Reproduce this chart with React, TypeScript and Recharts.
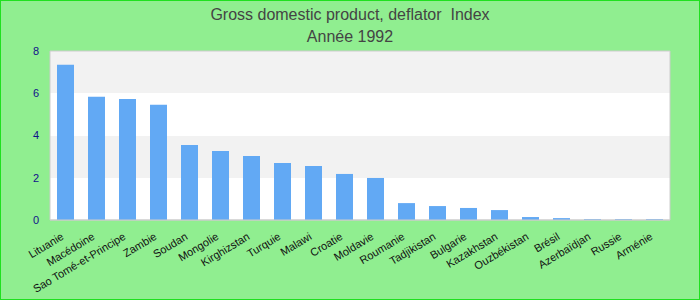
import { BarChart, Bar, XAxis, YAxis, CartesianGrid, ReferenceArea } from "recharts";

const countries = [
  "Lituanie",
  "Macédoine",
  "Sao Tomé-et-Principe",
  "Zambie",
  "Soudan",
  "Mongolie",
  "Kirghizstan",
  "Turquie",
  "Malawi",
  "Croatie",
  "Moldavie",
  "Roumanie",
  "Tadjikistan",
  "Bulgarie",
  "Kazakhstan",
  "Ouzbékistan",
  "Brésil",
  "Azerbaïdjan",
  "Russie",
  "Arménie",
];

const deflator = [
  7.35, 5.83, 5.73, 5.45, 3.55, 3.27, 3.03, 2.7, 2.56, 2.18, 1.99, 0.8, 0.66,
  0.57, 0.47, 0.14, 0.09, 0.04, 0.04, 0.04,
];

const yTicks = [0, 2, 4, 6, 8];

const data = countries.map((name, i) => ({ name, value: deflator[i] }));

const FONT = "'Liberation Sans', Arial, sans-serif";

export default function App() {
  return (
    <div
      style={{
        position: "absolute",
        left: 0,
        top: 0,
        width: 700,
        height: 300,
        boxSizing: "border-box",
        border: "1px solid #1fe01f",
        background: "#90ee90",
      }}
    >
      <div
        style={{
          position: "absolute",
          left: 0,
          top: 3,
          width: 698,
          textAlign: "center",
          fontFamily: "'Liberation Sans Narrow', 'Liberation Sans', sans-serif",
          fontSize: 16,
          color: "#444",
          whiteSpace: "pre",
          lineHeight: "22px",
        }}
      >
        <div>Gross domestic product, deflator  Index</div>
        <div>Année 1992</div>
      </div>
      <div style={{ position: "absolute", left: -1, top: -1 }}>
        <BarChart
          width={700}
          height={300}
          data={data}
          margin={{ top: 51, right: 30, bottom: 0, left: 0 }}
        >
          <CartesianGrid
            vertical={false}
            stroke="none"
            horizontalFill={["#f2f2f2", "#ffffff"]}
            fillOpacity={1}
          />
          <XAxis
            dataKey="name"
            interval={0}
            height={80}
            tickLine={false}
            axisLine={{ stroke: "#cccccc", strokeWidth: 1 }}
            angle={-31}
            textAnchor="end"
            dx={-5}
            dy={2}
            tickMargin={4}
            tick={{ fontSize: 11, fontFamily: FONT, fill: "#111" }}
          />
          <YAxis
            width={50}
            domain={[0, 8]}
            ticks={yTicks}
            tickLine={false}
            axisLine={false}
            tickMargin={5}
            tick={{ fontSize: 11, fontFamily: FONT, fill: "#10108a" }}
          />
          <ReferenceArea
            y1={0}
            y2={8}
            fill="none"
            stroke="#cccccc"
            strokeWidth={1}
          />
          <Bar
            dataKey="value"
            fill="#62a9f4"
            barSize={17}
            isAnimationActive={false}
          />
        </BarChart>
      </div>
    </div>
  );
}
